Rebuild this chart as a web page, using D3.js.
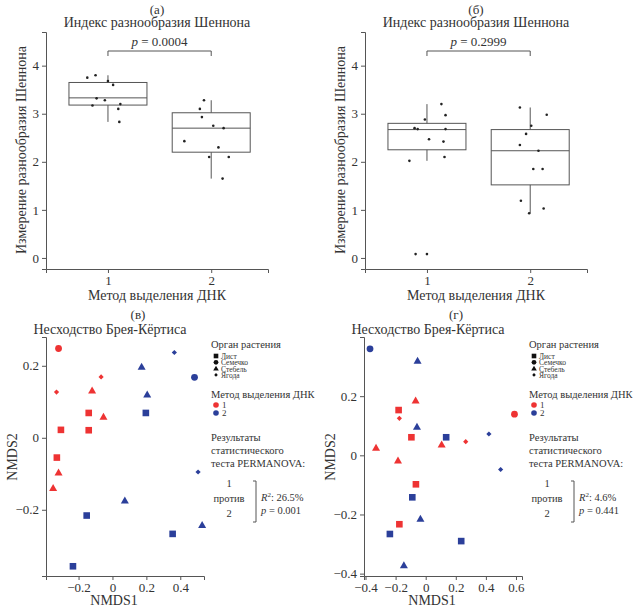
<!DOCTYPE html>
<html lang="ru">
<head>
<meta charset="UTF-8">
<script src="https://d3js.org/d3.v7.min.js"></script>
<style>
  body { margin: 0; background: #fff; }
  #chart, #chart text { font-family: "Liberation Serif", "DejaVu Serif", "Times New Roman", serif; }
  #chart text { fill: #333; }
  .axis path, .axis line { stroke: #555; }
  .axis text { font-size: 13px; fill: #333; }
</style>
</head>
<body>
<svg id="chart" width="641" height="610" font-family="Liberation Serif, DejaVu Serif, serif"></svg>
<script>
// ---- данные: индекс Шеннона ----
const groups = ["1", "2"];
// [нижний ус, Q1, медиана, Q3, верхний ус]
const boxA = [[2.83, 3.18, 3.33, 3.65, 3.80], [1.65, 2.20, 2.70, 3.02, 3.28]];
const boxB = [[2.02, 2.25, 2.67, 2.80, 3.20], [0.93, 1.52, 2.23, 2.67, 3.13]];
// точки: [позиция с разбросом, значение]
const ptsA = [[0.80,3.75],[0.88,3.80],[1.00,3.68],[1.05,3.60],[0.89,3.32],[0.97,3.28],[0.85,3.17],[1.10,3.10],[1.12,3.20],[1.11,2.83],
              [1.93,3.28],[1.89,3.10],[1.91,2.93],[2.02,2.75],[2.12,2.70],[1.74,2.43],[2.07,2.30],[1.98,2.10],[2.17,2.10],[2.11,1.65]];
const ptsB = [[1.14,3.20],[1.18,2.97],[0.98,2.88],[0.88,2.70],[0.91,2.68],[1.18,2.68],[1.02,2.47],[1.16,2.42],[1.17,2.10],[0.83,2.02],[0.89,0.08],[1.00,0.08],
              [1.90,3.13],[2.16,2.98],[2.01,2.75],[1.96,2.58],[1.90,2.35],[2.08,2.23],[2.03,1.85],[2.12,1.85],[1.91,1.19],[2.13,1.03],[1.99,0.93]];
const pA = "0.0004", pB = "0.2999";

// ---- данные: NMDS ----
// [NMDS1, NMDS2, орган, метод]
const nmdsV = [
  [-0.318,0.248,"c",1],[-0.067,0.169,"d",1],[-0.33,0.127,"d",1],[-0.12,0.131,"t",1],[-0.14,0.069,"s",1],[-0.053,0.058,"t",1],
  [-0.304,0.022,"s",1],[-0.14,0.021,"s",1],[-0.328,-0.055,"s",1],[-0.318,-0.097,"t",1],[-0.35,-0.14,"t",1],
  [0.365,0.237,"d",2],[0.172,0.197,"t",2],[0.484,0.168,"c",2],[0.205,0.12,"t",2],[0.197,0.069,"s",2],[0.505,-0.095,"d",2],
  [0.073,-0.175,"t",2],[-0.152,-0.216,"s",2],[0.529,-0.243,"t",2],[0.355,-0.267,"s",2],[-0.233,-0.357,"s",2]
];
const nmdsG = [
  [-0.067,0.185,"t",1],[-0.18,0.153,"s",1],[-0.175,0.125,"d",1],[0.59,0.139,"c",1],[-0.095,0.061,"s",1],[0.106,0.036,"t",1],
  [0.266,0.046,"d",1],[-0.33,0.025,"t",1],[-0.184,-0.018,"t",1],[-0.065,-0.098,"s",1],[-0.175,-0.233,"s",1],
  [-0.37,0.36,"c",2],[-0.054,0.319,"t",2],[-0.058,0.096,"t",2],[0.136,0.061,"s",2],[0.42,0.072,"d",2],[0.498,-0.048,"d",2],
  [-0.089,-0.142,"s",2],[-0.035,-0.215,"t",2],[-0.238,-0.266,"s",2],[0.236,-0.29,"s",2],[-0.145,-0.372,"t",2]
];
const organs = [["s","Лист"],["c","Семечко"],["t","Стебель"],["d","Ягода"]];
const methodColors = {1: "#ee3333", 2: "#2b3f9a"};

const svg = d3.select("#chart");

function boxPanel(ox, label, boxes, pts, pval) {
  const g = svg.append("g").attr("transform", `translate(${ox},0)`);
  const x = d3.scaleLinear().domain([0.4, 2.55]).range([46, 268]);
  const y = d3.scaleLinear().domain([-0.23, 4.7]).range([269, 32]);
  g.append("g").attr("class","axis").attr("transform","translate(0,269)")
    .call(d3.axisBottom(x).tickValues([1,2]).tickFormat(d => groups[d-1]).tickSizeOuter(0).tickSize(4));
  g.append("g").attr("class","axis").attr("transform","translate(46,0)")
    .call(d3.axisLeft(y).ticks(5).tickSizeOuter(0).tickSize(4));
  const bw = 78;
  boxes.forEach((b, i) => {
    const cx = x(i + 1);
    g.append("line").attr("x1",cx).attr("x2",cx).attr("y1",y(b[0])).attr("y2",y(b[1])).attr("stroke","#555");
    g.append("line").attr("x1",cx).attr("x2",cx).attr("y1",y(b[3])).attr("y2",y(b[4])).attr("stroke","#555");
    g.append("rect").attr("x",cx-bw/2).attr("width",bw).attr("y",y(b[3])).attr("height",y(b[1])-y(b[3]))
      .attr("fill","none").attr("stroke","#555");
    g.append("line").attr("x1",cx-bw/2).attr("x2",cx+bw/2).attr("y1",y(b[2])).attr("y2",y(b[2])).attr("stroke","#555");
  });
  g.selectAll("circle.pt").data(pts).enter().append("circle")
    .attr("cx", d => x(d[0])).attr("cy", d => y(d[1])).attr("r", 1.3).attr("fill", "#222");
  // скобка с p
  g.append("path").attr("d", `M${x(1)},56V51H${x(2)}V56`).attr("fill","none").attr("stroke","#555");
  const pt = g.append("text").attr("x",(x(1)+x(2))/2).attr("y",46).attr("text-anchor","middle").attr("font-size",13);
  pt.append("tspan").attr("font-style","italic").text("p");
  pt.append("tspan").text(" = " + pval);
  g.append("text").attr("x",157).attr("y",14).attr("text-anchor","middle").attr("font-size",13).text(label);
  g.append("text").attr("x",157).attr("y",27).attr("text-anchor","middle").attr("font-size",14).text("Индекс разнообразия Шеннона");
  g.append("text").attr("transform","translate(26,150) rotate(-90)").attr("text-anchor","middle").attr("font-size",14)
    .text("Измерение разнообразия Шеннона");
  g.append("text").attr("x",157).attr("y",300).attr("text-anchor","middle").attr("font-size",14).text("Метод выделения ДНК");
}

function marker(sel, shape) {
  if (shape === "s") sel.append("rect").attr("x",-3.3).attr("y",-3.3).attr("width",6.6).attr("height",6.6);
  else if (shape === "c") sel.append("circle").attr("r",3.4);
  else if (shape === "t") sel.append("path").attr("d","M0,-4.2L4,2.8H-4Z");
  else sel.append("path").attr("d","M0,-2.6L2.6,0L0,2.6L-2.6,0Z");
}

function nmdsPanel(ox, label, data, xd, yd, xticks, yticks, r2, pval) {
  const g = svg.append("g").attr("transform", `translate(${ox},305)`);
  const x = d3.scaleLinear().domain(xd).range([46, 204]);
  const y = d3.scaleLinear().domain(yd).range([271, 32]);
  const fmt = d => d === 0 ? "0" : d3.format(".1f")(d).replace("-","\u2212");
  g.append("g").attr("class","axis").attr("transform","translate(0,271)")
    .call(d3.axisBottom(x).tickValues(xticks).tickFormat(fmt).tickSizeOuter(0).tickSize(4));
  g.append("g").attr("class","axis").attr("transform","translate(46,0)")
    .call(d3.axisLeft(y).tickValues(yticks).tickFormat(fmt).tickSizeOuter(0).tickSize(4));
  data.forEach(d => {
    const m = g.append("g").attr("transform",`translate(${x(d[0])},${y(d[1])})`).attr("fill", methodColors[d[3]]);
    marker(m, d[2]);
  });
  g.append("text").attr("x",138).attr("y",14).attr("text-anchor","middle").attr("font-size",13).text(label);
  g.append("text").attr("x",110).attr("y",29).attr("text-anchor","middle").attr("font-size",14).text("Несходство Брея-Кёртиса");
  g.append("text").attr("transform","translate(17,152) rotate(-90)").attr("text-anchor","middle").attr("font-size",14).text("NMDS2");
  g.append("text").attr("x",114).attr("y",300).attr("text-anchor","middle").attr("font-size",14).text("NMDS1");
  // легенда
  const lg = g.append("g").attr("transform","translate(211,0)");
  lg.append("text").attr("x",0).attr("y",43).attr("font-size",10.5).text("Орган растения");
  organs.forEach((o, i) => {
    const m = lg.append("g").attr("transform",`translate(5,${51 + i*6.3}) scale(0.7)`).attr("fill","#111");
    marker(m, o[0]);
    lg.append("text").attr("x",10).attr("y",54 + i*6.3).attr("font-size",7.5).text(o[1]);
  });
  lg.append("text").attr("x",0).attr("y",93).attr("font-size",10.5).text("Метод выделения ДНК");
  [1,2].forEach((k, i) => {
    lg.append("circle").attr("cx",5).attr("cy",100 + i*8).attr("r",2.8).attr("fill",methodColors[k]);
    lg.append("text").attr("x",11).attr("y",103 + i*8).attr("font-size",9).text(k);
  });
  ["Результаты","статистического","теста PERMANOVA:"].forEach((t, i) =>
    lg.append("text").attr("x",0).attr("y",136 + i*13).attr("font-size",10.5).text(t));
  ["1","против","2"].forEach((t, i) =>
    lg.append("text").attr("x",18).attr("y",182 + i*15).attr("text-anchor","middle").attr("font-size",10.5).text(t));
  lg.append("path").attr("d","M42,176H45V217H42").attr("fill","none").attr("stroke","#555");
  const rt = lg.append("text").attr("x",50).attr("y",196).attr("font-size",10.5);
  rt.append("tspan").attr("font-style","italic").text("R");
  rt.append("tspan").attr("font-size",7).attr("dy",-4).text("2");
  rt.append("tspan").attr("dy",4).text(": " + r2);
  const pp = lg.append("text").attr("x",50).attr("y",209).attr("font-size",10.5);
  pp.append("tspan").attr("font-style","italic").text("p");
  pp.append("tspan").text(" = " + pval);
}

boxPanel(0, "(а)", boxA, ptsA, pA);
boxPanel(319, "(б)", boxB, ptsB, pB);
nmdsPanel(0, "(в)", nmdsV, [-0.392, 0.54], [-0.384, 0.28], [-0.2, 0, 0.2, 0.4], [-0.2, 0, 0.2], "26.5%", "0.001");
nmdsPanel(318, "(г)", nmdsG, [-0.41, 0.64], [-0.408, 0.40], [-0.4, -0.2, 0, 0.2, 0.4, 0.6], [-0.4, -0.2, 0, 0.2], "4.6%", "0.441");
</script>
</body>
</html>
